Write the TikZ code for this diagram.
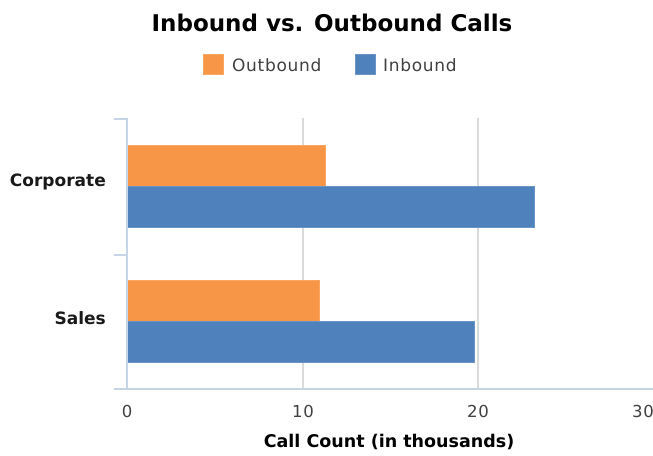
\documentclass[tikz,border=0pt]{standalone}
\usepackage{fontspec}
\setmainfont{DejaVu Sans}
\newfontfamily\legfont[LetterSpace=4]{DejaVu Sans}
\definecolor{outc}{HTML}{F79646}
\definecolor{inc}{HTML}{4F81BD}
\definecolor{axc}{HTML}{C6D5E6}
\definecolor{gridc}{HTML}{DADADA}
\definecolor{txtc}{HTML}{404040}
\begin{document}
\begin{tikzpicture}[x=1pt,y=-1pt,
  bar/.style={draw=#1!85!white,fill=#1,line width=0.8pt},
  catlabel/.style={anchor=east,font=\bfseries\fontsize{17}{20}\selectfont,text=black!90,inner sep=0pt},
  ticklabel/.style={font=\legfont\fontsize{16.5}{19}\selectfont,text=txtc,inner sep=0pt},
  legtext/.style={anchor=west,font=\legfont\fontsize{17}{20}\selectfont,text=txtc,inner sep=0pt},
  legbox/.style={minimum size=20pt,inner sep=0pt,fill=#1,draw=#1!85!white,line width=0.6pt},
  gridline/.style={draw=gridc,line width=1.5pt},
  axisline/.style={draw=axc,line width=1.5pt}]
\useasboundingbox (0,0) rectangle (653,455);
% title
\node[font=\bfseries\fontsize{23}{26}\selectfont] (title) at (332,23) {Inbound vs. Outbound Calls};
% legend
\node[legbox=outc] (lo) at (213.5,64) {};
\node[legtext] (lot) at (232,65) {Outbound};
\node[legbox=inc] (li) at (365.5,64) {};
\node[legtext] (lit) at (383,65) {Inbound};
% grid
\coordinate (g10t) at (303,118); \coordinate (g10b) at (303,389);
\coordinate (g20t) at (478,118); \coordinate (g20b) at (478,389);
\draw[gridline] (g10t) -- (g10b);
\draw[gridline] (g20t) -- (g20b);
% axes
\coordinate (yt) at (127,118); \coordinate (yb) at (127,389);
\coordinate (xl) at (114,389); \coordinate (xr) at (653,389);
\coordinate (t1a) at (114,119); \coordinate (t1b) at (127,119);
\coordinate (t2a) at (114,255); \coordinate (t2b) at (127,255);
% bars
\draw[bar=outc] (127,145.5) rectangle (325,186);
\draw[bar=inc] (127,186) rectangle (534,227.5);
\draw[bar=outc] (127,280.5) rectangle (319,321);
\draw[bar=inc] (127,321) rectangle (474.5,362.5);
\draw[axisline] (yt) -- (yb);
\draw[axisline] (xl) -- (xr);
\draw[axisline] (t1a) -- (t1b);
\draw[axisline] (t2a) -- (t2b);
% category labels
\node[catlabel] (corp) at (106,182) {Corporate};
\node[catlabel] (sales) at (106,318) {Sales};
% tick labels
\node[ticklabel] (x0) at (127,411) {0};
\node[ticklabel] (x10) at (303,411) {10};
\node[ticklabel] (x20) at (478,411) {20};
\node[ticklabel,anchor=east] (x30) at (654,411) {30};
% axis title
\node[font=\bfseries\fontsize{17.5}{20}\selectfont] (xtitle) at (389,442) {Call Count (in thousands)};
\end{tikzpicture}
\end{document}
